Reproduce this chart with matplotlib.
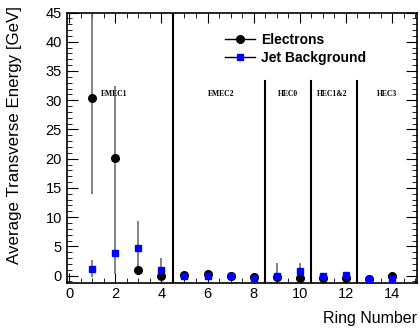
import matplotlib
matplotlib.use("Agg")
import matplotlib.pyplot as plt
from matplotlib.lines import Line2D
from matplotlib.ticker import MultipleLocator

# ring numbers
rings = [1, 2, 3, 4, 5, 6, 7, 8, 9, 10, 11, 12, 13, 14]

# electrons
ele_val = [30.3, 20.1, 0.9, -0.1, 0.1, 0.3, 0.0, -0.3, -0.3, -0.4, -0.4, -0.4, -0.5, -0.1]
ele_err = [16.3, 12.4, 0.6, 0.3, 0.2, 0.2, 0.2, 0.2, 0.3, 0.3, 0.2, 0.2, 0.2, 0.4]

# jet background
jet_val = [1.2, 3.9, 4.7, 1.0, 0.0, 0.0, 0.0, -0.4, 0.0, 0.8, 0.0, 0.1, -0.5, -0.55]
jet_err = [1.5, 3.7, 4.6, 2.0, 0.2, 0.2, 0.2, 0.2, 2.1, 1.4, 0.2, 0.4, 0.2, 0.3]

# calorimeter sections
section_names = ["EMEC1", "EMEC2", "HEC0", "HEC1&2", "HEC3"]
section_x = [1.95, 6.6, 9.5, 11.4, 13.8]
divider_x = [4.5, 8.5, 10.5, 12.5]
divider_top = [45, 33.3, 33.3, 33.3]

plt.rcParams['font.family'] = ['Liberation Sans', 'DejaVu Sans']

fig = plt.figure(figsize=(4.2, 3.29), dpi=100)
ax = fig.add_axes([0.159, 0.141, 0.835, 0.821])

ax.errorbar(rings, ele_val, yerr=ele_err, fmt='none', ecolor='#6e6e6e', elinewidth=1.2, zorder=2)
ax.errorbar(rings, jet_val, yerr=jet_err, fmt='none', ecolor='#6e6e6e', elinewidth=1.2, zorder=2)
ax.plot(rings, ele_val, 'o', color='black', markersize=5.5, zorder=3)
ax.plot(rings, jet_val, 's', color='#0000ff', markersize=4.8, zorder=4)

for x, top in zip(divider_x, divider_top):
    ax.plot([x, x], [-1.2, top], color='black', lw=1.5, zorder=1)

for name, x in zip(section_names, section_x):
    ax.text(x, 31, name, family='Liberation Serif', fontweight='bold', fontsize=5.5,
            ha='center', va='center')

ax.set_xlim(-0.1, 15.1)
ax.set_ylim(-1.2, 45)
ax.xaxis.set_major_locator(MultipleLocator(2))
ax.xaxis.set_minor_locator(MultipleLocator(0.5))
ax.yaxis.set_major_locator(MultipleLocator(5))
ax.yaxis.set_minor_locator(MultipleLocator(1))
ax.tick_params(which='both', direction='in', top=True, right=True, labelsize=10.5)
ax.tick_params(which='major', length=7)
ax.tick_params(which='minor', length=3.5)
ax.tick_params(axis='y', which='major', length=8)
for s in ax.spines.values():
    s.set_linewidth(1.2)

ax.set_xlabel("Ring Number", fontsize=11.5, loc='right')
ax.xaxis.set_label_coords(1.0, -0.105)
ax.set_ylabel("Average Transverse Energy [GeV]", fontsize=12.2, loc='top')
ax.yaxis.set_label_coords(-0.128, 1.025)

handles = [Line2D([], [], color='black', marker='o', markersize=5.5, lw=1),
           Line2D([], [], color='black', marker='s', markersize=4.8, lw=1,
                  markerfacecolor='#0000ff', markeredgecolor='#0000ff')]
ax.legend(handles, ["Electrons", "Jet Background"], loc='upper left',
          bbox_to_anchor=(0.415, 0.97), frameon=False, handlelength=2.2,
          handletextpad=0.4, labelspacing=0.3, prop={'weight': 'bold', 'size': 10})

fig.savefig("out.png", dpi=100)
